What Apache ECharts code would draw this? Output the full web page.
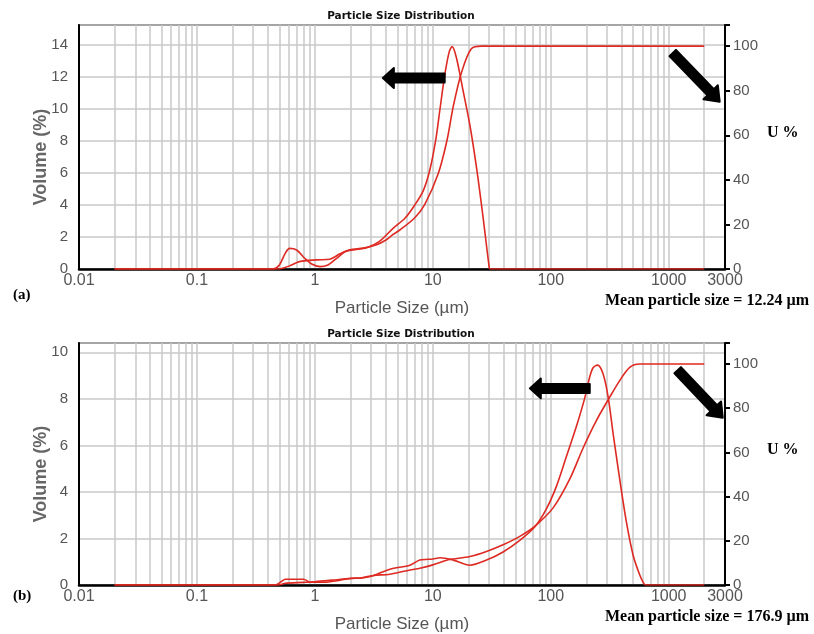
<!DOCTYPE html>
<html>
<head>
<meta charset="utf-8">
<script src="https://cdn.jsdelivr.net/npm/echarts@6/dist/echarts.min.js"></script>
<style>
  html, body { margin: 0; padding: 0; background: #fff; }
  #chart { width: 814px; height: 634px; }
</style>
</head>
<body>
<div id="chart"></div>
<script>
// Particle size axis (µm, log scale) labels
const sizeLabels = [0.01, 0.1, 1, 10, 100, 1000, 3000];
const leftTickStep = 2;
const rightTickStep = 20;

// (a) frequency curve: Volume (%)
const sizeFreqA = [0.02, 0.44, 0.5, 0.56, 0.61, 0.70, 0.82, 0.94, 1.1, 1.29, 1.53, 1.80, 2.10, 2.75, 3.5, 4.6, 5.8, 7.03, 8.3, 9.44, 10.6, 11.5, 12.6, 13.8, 14.6, 15.85, 18.1, 20.6, 23.5, 26.7, 30, 30.5, 2000];
const volFreqA  = [0, 0, 0.25, 0.98, 1.29, 1.19, 0.67, 0.31, 0.15, 0.25, 0.67, 1.08, 1.19, 1.33, 1.71, 2.54, 3.17, 4.0, 4.9, 6.2, 8.1, 10.0, 12.1, 13.6, 13.9, 13.2, 11.1, 9.0, 6.3, 3.2, 0.15, 0, 0];
// (a) cumulative curve: U %
const sizeCumA = [0.02, 0.5, 0.55, 0.61, 0.74, 1.03, 1.34, 1.63, 1.97, 2.57, 3.34, 4.0, 4.6, 5.25, 7.03, 8.55, 11.1, 13.2, 14.9, 17.5, 21.2, 25.9, 2000];
const cumA      = [0, 0, 0.6, 1.4, 3.3, 4.1, 4.4, 6.8, 8.6, 9.4, 10.9, 13, 15.5, 17.5, 23, 29, 42.7, 57.9, 73, 88.2, 98.8, 100, 100];

// (b) frequency curve: Volume (%)
const sizeFreqB = [0.02, 0.46, 0.52, 0.56, 0.8, 0.91, 1.2, 1.6, 2.0, 2.5, 3.12, 4.33, 6.4, 7.76, 10, 11.5, 14.9, 20.6, 28.5, 39.4, 54.6, 73, 91.8, 112, 136, 165, 194, 214, 229, 249, 277, 306, 337, 384, 438, 499, 568, 614, 640, 2000];
const volFreqB  = [0, 0, 0.15, 0.25, 0.25, 0.12, 0.12, 0.2, 0.28, 0.3, 0.4, 0.68, 0.85, 1.07, 1.12, 1.17, 1.07, 0.85, 1.07, 1.42, 1.92, 2.49, 3.27, 4.26, 5.54, 6.82, 8.03, 8.95, 9.35, 9.45, 9.09, 8.1, 6.54, 4.55, 2.7, 1.28, 0.43, 0.07, 0, 0];
// (b) cumulative curve: U %
const sizeCumB = [0.02, 0.5, 0.56, 0.8, 1.0, 1.4, 2.0, 2.5, 3.12, 4.33, 6.4, 7.76, 10, 13.7, 14.9, 20.6, 28.5, 39.4, 54.6, 73, 105, 145, 188, 244, 316, 384, 467, 568, 2000];
const cumB      = [0, 0, 0.8, 1.2, 1.5, 2.2, 3.0, 3.3, 4.3, 4.9, 6.8, 7.6, 9.1, 11.5, 11.8, 12.9, 15.2, 18.2, 22, 26.5, 35, 48, 62, 74.5, 85, 92.5, 98.5, 100, 100];

// Annotation arrows, in data coordinates [size, volume] (tail -> tip)
const arrowsA = [[[12.6, 11.94], [3.77, 11.94]], [[1081, 13.5], [2704, 10.46]]];
const arrowsB = [[[214, 8.45], [66.4, 8.45]], [[1191, 9.23], [2871, 7.19]]];

const meanA = 'Mean particle size = 12.24 µm';
const meanB = 'Mean particle size = 176.9 µm';

// minor log gridlines: 1..9 × each decade
const gridValues = [];
for (let e = -2; e <= 3; e++) {
  for (let m = 1; m <= 9; m++) {
    const v = +(m * Math.pow(10, e)).toPrecision(3);
    if (v <= 3000) gridValues.push(v);
  }
}

const zip = (xs, ys) => xs.map((x, i) => [x, ys[i]]);

const SANS = 'Liberation Sans';
const SERIF = 'Liberation Serif';
const RED = '#de2a22';
const GRID_GREY = '#c9c9c9';

function xAxisFor(gridIndex) {
  return {
    type: 'log', logBase: 10, gridIndex, min: 0.01, max: 3000,
    name: 'Particle Size (µm)', nameLocation: 'middle', nameGap: 31, nameMoveOverlap: false,
    nameTextStyle: { fontFamily: SANS, fontSize: 17, color: '#555' },
    axisLine: { show: true, onZero: false, lineStyle: { color: '#000', width: 2.5 } },
    axisTick: { show: false, customValues: gridValues },
    axisLabel: { customValues: sizeLabels, margin: 4, fontFamily: SANS, fontSize: 16, color: '#555',
                 formatter: v => String(v) },
    splitLine: { show: true, lineStyle: { color: GRID_GREY, width: 1.5 } },
    minorTick: { show: false }
  };
}

function leftAxisFor(gridIndex, max) {
  return {
    type: 'value', gridIndex, position: 'left', min: 0, max, interval: leftTickStep,
    name: 'Volume (%)', nameLocation: 'middle', nameGap: 29, nameRotate: 90, nameMoveOverlap: false,
    nameTextStyle: { fontFamily: SANS, fontSize: 18, fontWeight: 'bold', color: '#666', padding: [0, 20, 0, 0] },
    axisLine: { show: true, lineStyle: { color: '#000', width: 2 } },
    axisTick: { show: false },
    axisLabel: { margin: 11, fontFamily: SANS, fontSize: 15, color: '#555',
                 formatter: v => (Math.abs(v / leftTickStep - Math.round(v / leftTickStep)) < 1e-9 ? String(v) : '') },
    splitLine: { show: true, lineStyle: { color: GRID_GREY, width: 1.5 } }
  };
}

function rightAxisFor(gridIndex) {
  return {
    type: 'value', gridIndex, position: 'right', min: 0, max: 109.5, interval: rightTickStep,
    axisLine: { show: true, lineStyle: { color: '#000', width: 2 } },
    axisTick: { show: true, inside: false, length: 5, lineStyle: { color: '#000', width: 2 } },
    axisLabel: { margin: 8, fontFamily: SANS, fontSize: 15, color: '#555',
                 formatter: v => (v <= 100 ? String(v) : '') },
    splitLine: { show: false }
  };
}

function lineSeries(xi, yi, data) {
  return {
    type: 'line', xAxisIndex: xi, yAxisIndex: yi, data,
    showSymbol: false, symbol: 'none', smooth: 0.3, silent: true,
    lineStyle: { color: RED, width: 1.6 }, z: 3
  };
}

const chart = echarts.init(document.getElementById('chart'), null, { renderer: 'canvas' });

const titleStyle = { fontFamily: 'DejaVu Sans', fontSize: 10.5, fontWeight: 'bold', color: '#111' };
const serifStyle = { fontFamily: SERIF, fontSize: 16, fontWeight: 'bold', color: '#000' };

chart.setOption({
  animation: false,
  backgroundColor: '#fff',
  title: [
    { text: 'Particle Size Distribution', left: 401, top: 11, textAlign: 'center', padding: 0, textStyle: titleStyle },
    { text: 'Particle Size Distribution', left: 401, top: 329, textAlign: 'center', padding: 0, textStyle: titleStyle },
    { text: '(a)', left: 13, top: 288, padding: 0, textStyle: Object.assign({}, serifStyle, { fontSize: 15 }) },
    { text: '(b)', left: 13, top: 589, padding: 0, textStyle: Object.assign({}, serifStyle, { fontSize: 15 }) },
    { text: meanA, right: 5, top: 293, padding: 0, textStyle: serifStyle },
    { text: meanB, right: 5, top: 609, padding: 0, textStyle: serifStyle },
    { text: 'U %', left: 767, top: 125, padding: 0, textStyle: serifStyle },
    { text: 'U %', left: 767, top: 442, padding: 0, textStyle: serifStyle }
  ],
  grid: [
    { left: 79, right: 89, top: 25, height: 244, show: true, borderColor: '#000', borderWidth: 1.5, backgroundColor: 'transparent' },
    { left: 79, right: 89, top: 343, height: 244, show: true, borderColor: '#000', borderWidth: 1.5, backgroundColor: 'transparent' }
  ],
  xAxis: [xAxisFor(0), xAxisFor(1)],
  yAxis: [leftAxisFor(0, 15.25), rightAxisFor(0), leftAxisFor(1, 10.4), rightAxisFor(1)],
  series: [
    lineSeries(0, 0, zip(sizeFreqA, volFreqA)),
    lineSeries(0, 1, zip(sizeCumA, cumA)),
    lineSeries(1, 2, zip(sizeFreqB, volFreqB)),
    lineSeries(1, 3, zip(sizeCumB, cumB))
  ]
});

// Thick black block arrows, positioned through the axes
function arrowPolygon(tail, tip, halfShaft, headLen, halfHead) {
  const dx = tip[0] - tail[0], dy = tip[1] - tail[1];
  const len = Math.hypot(dx, dy);
  const ux = dx / len, uy = dy / len;
  const nx = -uy, ny = ux;
  const bx = tip[0] - ux * headLen, by = tip[1] - uy * headLen;
  return [
    [tail[0] + nx * halfShaft, tail[1] + ny * halfShaft],
    [bx + nx * halfShaft, by + ny * halfShaft],
    [bx + nx * halfHead, by + ny * halfHead],
    [tip[0], tip[1]],
    [bx - nx * halfHead, by - ny * halfHead],
    [bx - nx * halfShaft, by - ny * halfShaft],
    [tail[0] - nx * halfShaft, tail[1] - ny * halfShaft]
  ];
}

const graphics = [];
[[arrowsA, 0, 0], [arrowsB, 1, 2]].forEach(([list, xi, yi]) => {
  list.forEach(([from, to], k) => {
    const p0 = chart.convertToPixel({ xAxisIndex: xi, yAxisIndex: yi }, from);
    const p1 = chart.convertToPixel({ xAxisIndex: xi, yAxisIndex: yi }, to);
    const pts = k === 0 ? arrowPolygon(p0, p1, 4.5, 11, 10) : arrowPolygon(p0, p1, 4.5, 13, 10);
    graphics.push({
      type: 'polygon', z: 10, silent: true,
      shape: { points: pts },
      style: { fill: '#000', stroke: '#000', lineWidth: 2, lineJoin: 'round' }
    });
  });
});
chart.setOption({ graphic: graphics });
</script>
</body>
</html>
